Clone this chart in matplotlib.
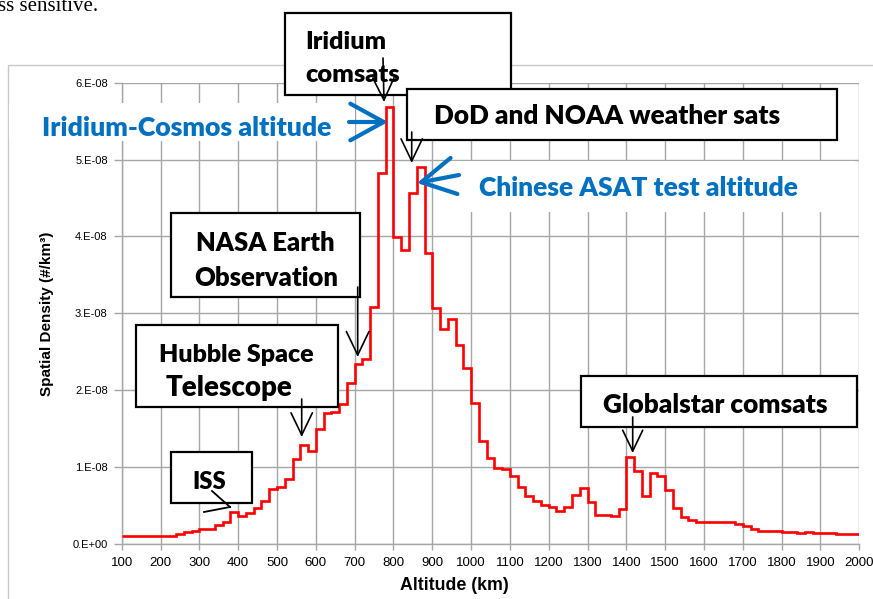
import matplotlib
matplotlib.use("Agg")
import matplotlib.pyplot as plt
import numpy as np
from matplotlib.patches import Rectangle
from matplotlib.lines import Line2D
from matplotlib.text import Annotation

# ---------------- data ----------------
bin_start_km = 100
bin_width_km = 20
# spatial density per 20 km altitude bin, in units of 1e-9 #/km^3 (100 .. 2000 km)
density_e9 = [
    1.0, 1.0, 1.0, 1.1, 1.1, 1.1, 1.1, 1.3, 1.5, 1.7,      # 100-280
    1.9, 2.0, 2.5, 2.9, 4.2, 3.7, 4.0, 4.7, 5.6, 7.2,      # 300-480
    7.4, 8.5, 11.0, 12.9, 12.1, 15.0, 17.1, 17.2, 18.2, 20.9,  # 500-680
    23.4, 24.1, 30.8, 48.3, 56.8, 39.9, 38.3, 45.7, 49.1, 37.8,  # 700-880
    30.7, 27.9, 29.3, 25.9, 22.9, 18.3, 13.4, 11.2, 9.9, 9.8,  # 900-1080
    8.9, 7.4, 6.2, 5.6, 5.1, 4.8, 4.3, 4.8, 6.4, 7.3,      # 1100-1280
    5.4, 3.8, 3.8, 3.6, 4.6, 11.3, 9.5, 6.3, 9.2, 8.8,     # 1300-1480
    7.0, 4.7, 3.5, 3.1, 2.8, 2.8, 2.8, 2.9, 2.9, 2.6,      # 1500-1680
    2.3, 2.0, 1.7, 1.7, 1.7, 1.5, 1.5, 1.4, 1.5, 1.4,      # 1700-1880
    1.4, 1.4, 1.3, 1.3, 1.3,                               # 1900-1980
]
x_ticks = [100, 200, 300, 400, 500, 600, 700, 800, 900, 1000,
           1100, 1200, 1300, 1400, 1500, 1600, 1700, 1800, 1900, 2000]
x_tick_labels = [str(v) for v in x_ticks]
y_ticks = [0, 1e-8, 2e-8, 3e-8, 4e-8, 5e-8, 6e-8]
y_tick_labels = ["0.E+00", "1.E-08", "2.E-08", "3.E-08", "4.E-08", "5.E-08", "6.E-08"]
x_label = "Altitude (km)"
y_label = "Spatial Density (#/km³)"

density = np.array(density_e9) * 1e-9
edges = bin_start_km + bin_width_km * np.arange(len(density) + 1)

# ---------------- figure ----------------
W, H = 873, 599
fig = plt.figure(figsize=(W / 100, H / 100), dpi=100)
fig.patch.set_facecolor("white")


def fx(x):
    return x / W


def fy(y):
    return 1 - y / H


# chart border
fig.add_artist(Rectangle((fx(8), fy(620)), fx(900), (620 - 65) / H,
                         transform=fig.transFigure, fill=False,
                         edgecolor="#c8c8c8", lw=1.0, zorder=0))

ax = fig.add_axes([fx(121.7), fy(544), (859.3 - 121.7) / W, (544 - 82.7) / H])
ax.set_facecolor("none")
ax.stairs(density, edges, color="#ff0000", lw=1.9, baseline=None, zorder=3)
ax.set_xlim(100, 2000)
ax.set_ylim(0, 6e-8)
ax.set_xticks(x_ticks)
ax.set_xticklabels(x_tick_labels)
ax.set_yticks(y_ticks)
ax.set_yticklabels(y_tick_labels)
ax.grid(True, color="#a6a6a6", lw=1.0, zorder=1)
ax.set_axisbelow(True)
for s in ["top", "right"]:
    ax.spines[s].set_visible(False)
for s in ["bottom", "left"]:
    ax.spines[s].set_color("#a6a6a6")
    ax.spines[s].set_linewidth(1.0)
tickfont = ["Liberation Sans Narrow", "Liberation Sans", "DejaVu Sans"]
ax.tick_params(axis="x", length=4, width=1.0, color="#a6a6a6", pad=5,
               labelsize=9.5)
ax.tick_params(axis="y", length=6, width=1.0, color="#a6a6a6", pad=4,
               labelsize=8)
for lab in ax.get_xticklabels() + ax.get_yticklabels():
    lab.set_family(tickfont)

renderer = fig.canvas.get_renderer()
BOLD = ["Lato", "Open Sans", "DejaVu Sans"]


def fit_text(cx, cy, s, width_px, ha="center", color="black", z=6, family=BOLD,
             weight="heavy", rotation=0):
    t = fig.text(fx(cx), fy(cy), s, ha=ha, va="center", fontsize=10,
                 color=color, family=family, fontweight=weight, zorder=z,
                 rotation=rotation)
    bb = t.get_window_extent(renderer)
    w = bb.height if rotation else bb.width
    t.set_fontsize(10 * width_px / w)
    return t


fit_text(454, 586, x_label, 109, family=tickfont, weight="bold")
fit_text(47, 314, y_label, 163, family=tickfont, weight="bold", rotation=90)


def box(x0, y0, x1, y1, z=5, edge="black", lw=1.6):
    fig.add_artist(Rectangle((fx(x0), fy(y1)), (x1 - x0) / W, (y1 - y0) / H,
                             transform=fig.transFigure, facecolor="white",
                             edgecolor=edge, lw=lw, zorder=z))


def km_from_px(px):
    return 100 + (px - 121.7) / ((859.3 - 121.7) / 1900)


def val_from_py(py):
    return (544 - py) / ((544 - 82.7) / 6) * 1e-8


def arrow(tail, tip, color="black", lw=1.2, hl=1.0, hw=0.48, ms=16, z=8):
    ann = Annotation("", xy=(km_from_px(tip[0]), val_from_py(tip[1])),
                     xycoords=ax.transData,
                     xytext=(tail[0], H - tail[1]), textcoords="figure pixels",
                     arrowprops=dict(arrowstyle=f"->,head_length={hl},head_width={hw}",
                                     color=color, lw=lw, shrinkA=0, shrinkB=0,
                                     mutation_scale=ms),
                     annotation_clip=False)
    fig.add_artist(ann)
    ann.set_zorder(z)


# top-left cut document text
fig.text(fx(-2), fy(11), "ss sensitive.", ha="left", va="baseline",
         fontsize=15, family=["Liberation Serif", "DejaVu Serif"], color="black")

# white backgrounds behind blue labels
fig.add_artist(Rectangle((fx(9), fy(141)), (355 - 9) / W, 38 / H,
                         transform=fig.transFigure, facecolor="white",
                         edgecolor="none", zorder=4))
fig.add_artist(Rectangle((fx(440), fy(212)), (855 - 440) / W, 51 / H,
                         transform=fig.transFigure, facecolor="white",
                         edgecolor="none", zorder=4))

BLUE = "#0070C0"
fit_text(187, 128, "Iridium-Cosmos altitude", 291, color=BLUE)
fit_text(638, 188, "Chinese ASAT test altitude", 321, color=BLUE)

# boxes
box(285, 13, 511, 95, z=5)
fit_text(305, 42, "Iridium", 81, ha="left", z=5.5)
fit_text(305, 75, "comsats", 95, ha="left", z=5.5)
box(407, 89, 837, 140, z=6)
fit_text(607, 116, "DoD and NOAA weather sats", 346, z=6.5)
box(171, 213, 360, 297)
fit_text(265, 243, "NASA Earth", 139)
fit_text(266, 278, "Observation", 144)
box(136, 325, 338, 407)
fit_text(236, 355, "Hubble Space", 156)
fit_text(229, 388, "Telescope", 127)
box(171, 452, 252, 503)
fit_text(209, 482, "ISS", 34)
box(581, 376, 857, 427)
fit_text(715, 405, "Globalstar comsats", 226)

# arrows
arrow((383, 58), (384, 102), ms=16)
arrow((411.7, 132), (411.7, 163), ms=16)
arrow((357.7, 287), (357.7, 357), ms=17)
arrow((301.7, 399), (301.7, 437), ms=16)
arrow((632.7, 417), (632.7, 453), ms=15)
arrow((349, 122), (388, 122), color=BLUE, lw=3.0, hl=1.0, hw=0.55, ms=24)
arrow((459, 175), (417, 183), color=BLUE, lw=3.0, hl=1.0, hw=0.55, ms=24)

# ISS half-arrow
fig.add_artist(Line2D([fx(212), fx(230)], [fy(491), fy(507)], color="black",
                      lw=1.3, transform=fig.transFigure, zorder=8))
fig.add_artist(Line2D([fx(204), fx(230)], [fy(512), fy(507)], color="black",
                      lw=1.3, transform=fig.transFigure, zorder=8))

fig.savefig("out.png", dpi=100)
